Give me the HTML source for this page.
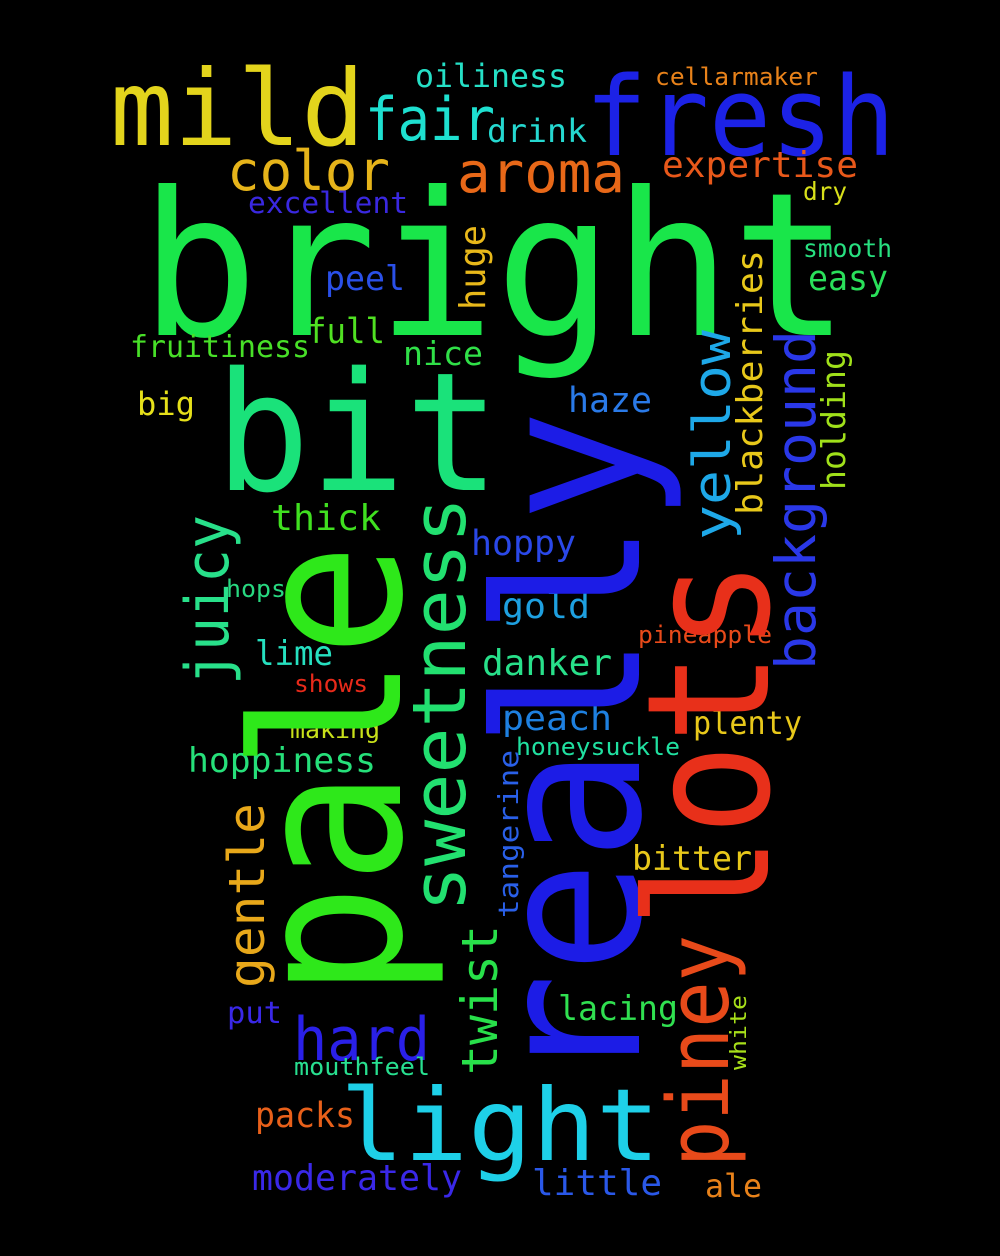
<!DOCTYPE html>
<html><head><meta charset="utf-8">
<style>
html,body{margin:0;padding:0;background:#000;}
svg{display:block;}
text{font-family:"DejaVu Sans Mono","Liberation Mono",monospace;}
</style></head>
<body>
<svg id="cloud" width="1000" height="1256" viewBox="0 0 1000 1256" xmlns="http://www.w3.org/2000/svg">
<rect width="1000" height="1256" fill="#000"/>
</svg>
<script>
const words = ["bright","mild","fresh","bit","fair","oiliness","drink","cellarmaker","color","aroma","expertise","excellent","dry","smooth","easy","peel","full","fruitiness","nice","big","haze","thick","hoppy","hops","gold","pineapple","lime","danker","shows","peach","making","plenty","honeysuckle","hoppiness","bitter","lacing","put","hard","mouthfeel","light","packs","moderately","little","ale",
"pale","really","lots","sweetness","juicy","yellow","blackberries","background","holding","huge","gentle","twist","tangerine","piney","white"];
const weights = [200,105,110,165,60,32,32,24,55,56,36,29,25,25,35,34,35,30,33,32,35,36,35,24,35,24,34,36,24,35,24,32,24,34,34,34,30,60,24,100,35,36,36,32,
205,200,170,74,60,52,36,55,33,36,50,50,28,85,22];
const colors = ["#19e64a","#e3d41c","#1c22e6","#1ae27a","#1ee0d0","#25e0c6","#25d8d0","#e8821a","#e6b41a","#e86818","#e8581a","#3a28e0","#d8e01a","#28e080","#2ae05a","#2a50e8","#50e022","#48e028","#30e048","#e6e01a","#2a7ae8","#40e020","#2a48e8","#28d880","#1ea0e0","#e84a1a","#26e0c0","#28e08a","#e82a1a","#1e80e0","#c8e01a","#e8c81a","#20e0a0","#26e07a","#e8c81a","#30e050","#3a28e8","#2a20e8","#28e090","#1ed0e8","#e8601a","#3a28e8","#2a58e8","#e8821a",
"#2ee81a","#1c1ce6","#e8301a","#22e070","#28e08a","#1ea8e8","#e8c81a","#2a38e8","#a0e01a","#e8b81a","#e8a81a","#28e04a","#2a60e8","#e84a1a","#a8e01a"];
// layout (not data): anchor x, baseline y, drawn length, rotation
const layout = [
[140,335,710,0],[110,145,255,0],[585,155,310,0],[215,490,285,0],[365,140,130,0],[415,87,152,0],[487,142,100,0],[655,85,163,0],[227,190,163,0],[457,192,168,0],[662,177,196,0],[248,213,160,0],[803,200,44,0],[803,257,89,0],[808,290,80,0],[325,290,80,0],[307,343,78,0],[130,357,180,0],[403,365,80,0],[137,415,58,0],[568,412,84,0],[271,530,110,0],[471,555,105,0],[226,597,60,0],[502,618,88,0],[638,643,134,0],[255,665,78,0],[482,675,130,0],[294,692,74,0],[502,730,110,0],[290,738,90,0],[693,734,109,0],[516,755,164,0],[188,772,188,0],[632,870,120,0],[558,1020,120,0],[227,1023,55,0],[293,1060,137,0],[294,1075,136,0],[340,1160,320,0],[255,1127,100,0],[252,1190,210,0],[532,1195,130,0],[705,1197,57,0],
[400,998,455,-90],[639,1086,676,-90],[768,928,369,-90],[465,912,415,-90],[228,685,170,-90],[730,540,210,-90],[762,515,265,-90],[815,670,340,-90],[845,490,140,-90],[485,310,85,-90],[264,988,185,-90],[497,1075,150,-90],[518,918,168,-90],[728,1167,232,-90],[746,1070,75,-90]];
const svg = document.getElementById('cloud');
const NS = "http://www.w3.org/2000/svg";
words.forEach((w,i)=>{
  const [x,y,len,rot] = layout[i];
  const t = document.createElementNS(NS,'text');
  t.setAttribute('x',x);
  t.setAttribute('y',y);
  t.setAttribute('font-size',weights[i]);
  t.setAttribute('fill',colors[i]);
  t.setAttribute('textLength',len);
  t.setAttribute('lengthAdjust','spacingAndGlyphs');
  if(rot) t.setAttribute('transform','rotate('+rot+' '+x+' '+y+')');
  
  
  t.textContent = w;
  svg.appendChild(t);
});
</script>
</body></html>
